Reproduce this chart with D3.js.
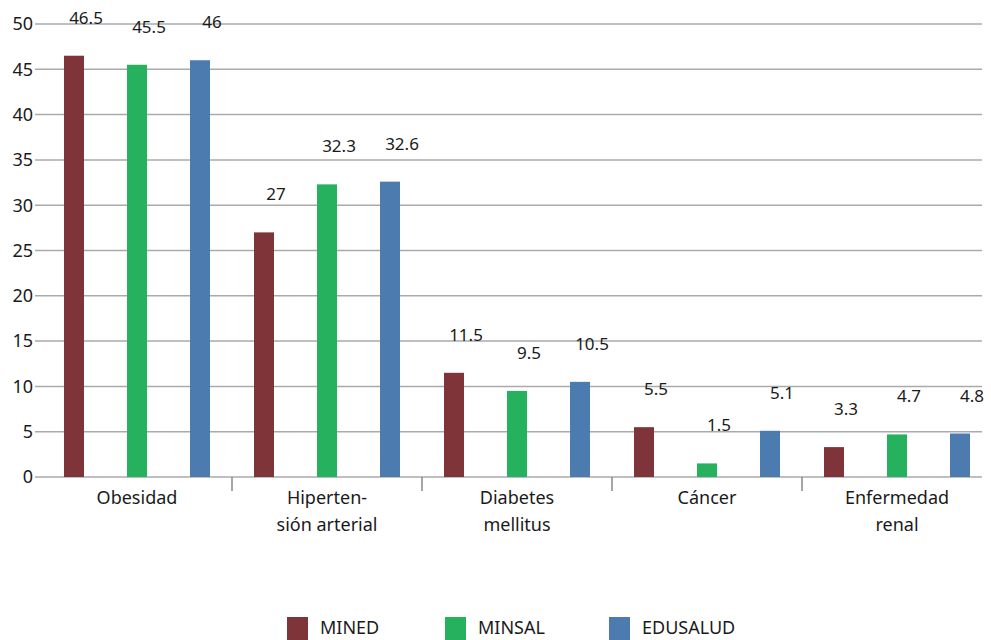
<!DOCTYPE html>
<html>
<head>
<meta charset="utf-8">
<script src="https://cdn.jsdelivr.net/npm/d3@7"></script>
<style>
  body { margin: 0; background: #fff; }
  text { font-family: "Noto Sans", sans-serif; fill: #1a1a1a; }
</style>
</head>
<body>
<svg id="chart" width="991" height="640"></svg>
<script>
const categories = [["Obesidad"], ["Hiperten-", "sión arterial"], ["Diabetes", "mellitus"], ["Cáncer"], ["Enfermedad", "renal"]];
const seriesNames = ["MINED", "MINSAL", "EDUSALUD"];
const mined = [46.5, 27, 11.5, 5.5, 3.3];
const minsal = [45.5, 32.3, 9.5, 1.5, 4.7];
const edusalud = [46, 32.6, 10.5, 5.1, 4.8];
const yTicks = [0, 5, 10, 15, 20, 25, 30, 35, 40, 45, 50];

const colors = ["#7f3439", "#25b15e", "#4c7bb0"];
const series = [mined, minsal, edusalud];
const barWidth = 20;

const svg = d3.select("#chart");

const x = d3.scaleBand().domain(d3.range(categories.length)).range([42, 992]);
// bar centres inside a category band
const inner = d3.scalePoint().domain(d3.range(seriesNames.length))
  .range([x.bandwidth() / 2 - 63, x.bandwidth() / 2 + 63]);
const y = d3.scaleLinear().domain([0, 50]).range([477, 24]);

// gridlines
svg.append("g")
  .selectAll("line")
  .data(yTicks)
  .join("line")
  .attr("x1", 35).attr("x2", 982)
  .attr("y1", d => y(d)).attr("y2", d => y(d))
  .attr("stroke", "#aaaaaa")
  .attr("stroke-width", 1.5);

// y labels
svg.append("g")
  .selectAll("text")
  .data(yTicks)
  .join("text")
  .attr("x", 33)
  .attr("y", d => y(d))
  .attr("dy", "0.35em")
  .attr("text-anchor", "end")
  .attr("font-size", 18)
  .text(d => d);

// category separators
svg.append("g")
  .selectAll("line")
  .data(d3.range(1, categories.length))
  .join("line")
  .attr("x1", d => x(d)).attr("x2", d => x(d))
  .attr("y1", y(0)).attr("y2", y(0) + 14)
  .attr("stroke", "#888")
  .attr("stroke-width", 1.5);

// bars + value labels
const groups = svg.append("g")
  .selectAll("g")
  .data(series)
  .join("g");

groups.each(function(vals, si) {
  const g = d3.select(this);
  g.selectAll("rect")
    .data(vals)
    .join("rect")
    .attr("x", (v, ci) => x(ci) + inner(si) - barWidth / 2)
    .attr("width", barWidth)
    .attr("y", v => y(v))
    .attr("height", v => y(0) - y(v))
    .attr("fill", colors[si]);
  g.selectAll("text")
    .data(vals)
    .join("text")
    .attr("x", (v, ci) => x(ci) + inner(si) + 12)
    .attr("y", v => y(v) - 32)
    .attr("text-anchor", "middle")
    .attr("font-size", 17)
    .text(v => v);
});

// category labels
svg.append("g")
  .selectAll("text")
  .data(categories)
  .join("text")
  .attr("x", (d, i) => x(i) + x.bandwidth() / 2)
  .attr("y", 504)
  .attr("text-anchor", "middle")
  .attr("font-size", 18)
  .each(function(lines) {
    const t = d3.select(this);
    t.selectAll("tspan")
      .data(lines)
      .join("tspan")
      .attr("x", t.attr("x"))
      .attr("dy", (l, i) => i === 0 ? 0 : 27)
      .text(l => l);
  });

// legend
const legendX = [287, 445, 609];
const legend = svg.append("g")
  .selectAll("g")
  .data(seriesNames)
  .join("g")
  .attr("transform", (d, i) => `translate(${legendX[i]},617)`);
legend.append("rect")
  .attr("width", 21).attr("height", 23)
  .attr("fill", (d, i) => colors[i]);
legend.append("text")
  .attr("x", 33).attr("y", 11)
  .attr("dy", "0.35em")
  .attr("font-size", 18)
  .text(d => d);
</script>
</body>
</html>
